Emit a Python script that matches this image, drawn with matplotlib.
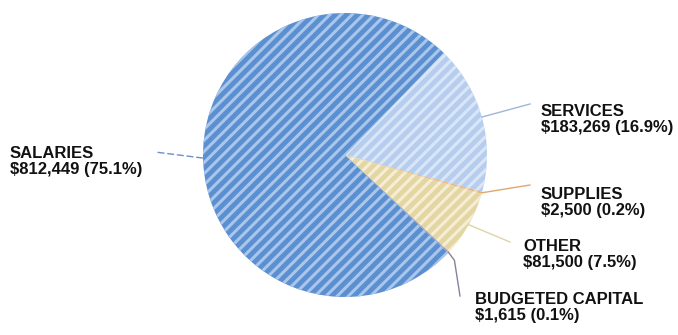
import numpy as np
import matplotlib
matplotlib.use("Agg")
import matplotlib.pyplot as plt

plt.rcParams['font.family'] = ['Liberation Sans', 'DejaVu Sans']
plt.rcParams['hatch.linewidth'] = 2.2

# data, in the order the slices run clockwise
categories = ["SERVICES", "SUPPLIES", "OTHER", "BUDGETED CAPITAL", "SALARIES"]
amounts = [183269, 2500, 81500, 1615, 812449]
percents = [16.9, 0.2, 7.5, 0.1, 75.1]

colors = ["#b7cdee", "#e8b27a", "#e3d6a3", "#9a8fb0", "#5b8fcf"]
stripes = ["#d9e6f8", "#f5dcc0", "#f5eed5", "#c8c0d8", "#a9c6ec"]
line_colors = ["#9fb5d8", "#e0a870", "#e0d3a8", "#8a809c", "#6f8fc0"]

# label anchor (left x, top y) and leader end, in pixels from top-left
label_pos = [(541, 104), (541, 187), (523, 239), (475, 292), (10, 146)]
leader_end = [(530, 104), (530, 185), (510, 242), (460, 296), (155, 152)]

W, H = 678, 335
cx, cy, r = 345, 155, 142
start = 46

fig = plt.figure(figsize=(W / 100, H / 100), dpi=100)
ax = fig.add_axes([0, 0, 1, 1])

wedges, _ = ax.pie(amounts, colors=colors, startangle=start, counterclock=False,
                   center=(cx, H - cy), radius=r,
                   wedgeprops=dict(linewidth=0))
for w, s in zip(wedges, stripes):
    w.set_edgecolor(s)
    w.set_linewidth(0)
    w.set_hatch('///')

for w, cat, amt, pct, lc, (lx, ly), (ex, ey) in zip(
        wedges, categories, amounts, percents, line_colors, label_pos, leader_end):
    mid = np.deg2rad((w.theta1 + w.theta2) / 2)
    sx = cx + r * np.cos(mid)
    sy = (H - cy) + r * np.sin(mid)
    if cat == "BUDGETED CAPITAL":
        kx, ky = sx + 6, sy - 8
        ax.plot([sx, kx, ex], [sy, ky, H - ey], color=lc, lw=1.0)
    elif cat == "SALARIES":
        ax.plot([sx, ex], [sy, H - ey], color=lc, lw=1.0, dashes=(5, 2))
    else:
        ax.plot([sx, ex], [sy, H - ey], color=lc, lw=1.0)
    ax.text(lx, H - ly, f"{cat}\n${amt:,} ({pct}%)", ha='left', va='top',
            fontsize=12, fontweight='bold', color='#111111', linespacing=1.12)

ax.set_xlim(0, W)
ax.set_ylim(0, H)
ax.set_aspect('equal')
ax.axis('off')

fig.savefig("out.png", dpi=100)
